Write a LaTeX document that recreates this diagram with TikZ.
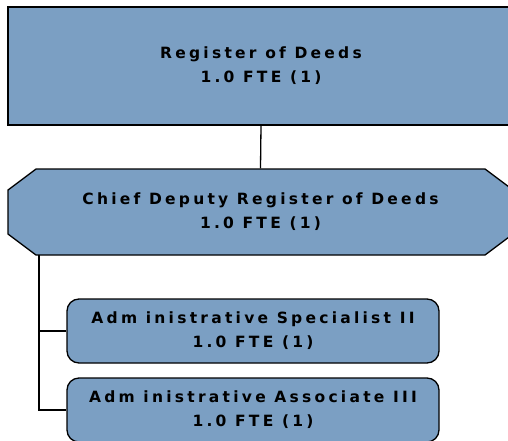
\documentclass[tikz,border=0pt]{standalone}
\usepackage{fontspec}
\usepackage{tikz}
\newfontfamily\orgfont{DejaVu Sans}[LetterSpace=21]
\definecolor{boxblue}{RGB}{123,159,195}

\begin{document}
\begin{tikzpicture}[x=1pt,y=-1pt,line width=1.3pt,
	orgbox/.style={draw=black,fill=boxblue,align=center,inner sep=0pt,
		font=\orgfont\bfseries\fontsize{15.5}{24}\selectfont}]
	\useasboundingbox (0,0) rectangle (508,441);
	\node[orgbox,rectangle,minimum width=506pt,minimum height=118pt] (rod) at (261,66) {Register of Deeds\\1.0 FTE (1)};
	% chief deputy box, chamfered corners
	\fill[boxblue,draw=black] (36,169) -- (485,169) -- (513,190) -- (513,234) -- (485,255) -- (36,255) -- (8,234) -- (8,190) -- cycle;
	\node[orgbox,draw=none,fill=none,minimum width=505pt,minimum height=86pt] (cd) at (260.5,212) {Chief Deputy Register of Deeds\\1.0 FTE (1)};
	\node[orgbox,rounded corners=12pt,minimum width=372pt,minimum height=64pt] (spec) at (253,331) {Adm inistrative Specialist II\\1.0 FTE (1)};
	\node[orgbox,rounded corners=12pt,minimum width=372pt,minimum height=64pt] (assoc) at (253,410) {Adm inistrative Associate III\\1.0 FTE (1)};
	\coordinate (trunk) at (39,255);
	\draw (rod.south) -- (cd.north);
	\draw (trunk) |- (spec.west);
	\draw (trunk) |- (assoc.west);
\end{tikzpicture}
\end{document}
